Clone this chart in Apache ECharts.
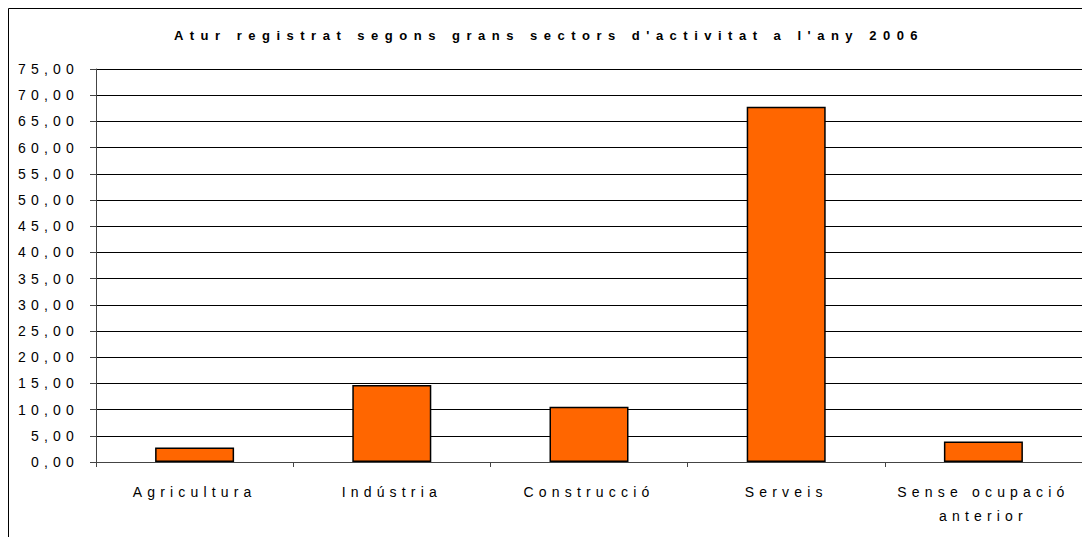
<!DOCTYPE html>
<html>
<head>
<meta charset="utf-8">
<script src="https://cdn.jsdelivr.net/npm/echarts@6/dist/echarts.min.js"></script>
<style>
  html, body { margin: 0; padding: 0; background: #fff; }
  #chart { width: 1082px; height: 537px; }
  /* the source chart has widely spaced glyphs */
  #chart text { letter-spacing: 0.37em; }
  #chart text[style*="bold"] { letter-spacing: 0.5em; }
</style>
</head>
<body>
<div id="chart"></div>
<script>
  // data
  var titleText = "Atur registrat segons grans sectors d'activitat a l'any 2006"
  var sectors = ['Agricultura', 'Indústria', 'Construcció', 'Serveis', 'Sense ocupació\nanterior']
  var atur = [2.75, 14.7, 10.55, 67.8, 3.9]
  var yMin = 0
  var yMax = 75
  var yStep = 5

  var chart = echarts.init(document.getElementById('chart'), null, { renderer: 'svg' })

  chart.setOption({
    animation: false,
    backgroundColor: '#fff',
    textStyle: {
      fontFamily: 'Liberation Sans, Arial, sans-serif'
    },
    graphic: [
      {
        // outer frame (left and top edges visible)
        type: 'rect',
        shape: { x: 8.5, y: 8.5, width: 1200, height: 700 },
        style: { fill: 'none', stroke: '#000', lineWidth: 1 },
        silent: true
      },
      {
        // chart title
        type: 'text',
        x: 549,
        y: 35,
        style: {
          text: titleText,
          fill: '#000',
          font: 'bold 13px Liberation Sans, Arial, sans-serif',
          align: 'center',
          verticalAlign: 'middle'
        },
        silent: true
      }
    ],
    grid: {
      left: 96,
      right: 0,
      top: 69,
      bottom: 75,
      containLabel: false
    },
    xAxis: {
      type: 'category',
      data: sectors,
      axisLine: {
        lineStyle: { color: '#444', width: 1 }
      },
      axisTick: {
        show: true,
        length: 5,
        lineStyle: { color: '#444' }
      },
      axisLabel: {
        color: '#000',
        fontSize: 14,
        margin: 18,
        lineHeight: 24
      }
    },
    yAxis: {
      type: 'value',
      min: yMin,
      max: yMax,
      interval: yStep,
      axisLine: {
        show: true,
        lineStyle: { color: '#444', width: 1 }
      },
      axisTick: {
        show: true,
        length: 6,
        lineStyle: { color: '#444' }
      },
      axisLabel: {
        color: '#000',
        fontSize: 14,
        margin: 17,
        formatter: function (v) {
          return v.toFixed(2).replace('.', ',')
        }
      },
      splitLine: {
        lineStyle: { color: '#000', width: 1 }
      }
    },
    series: [
      {
        name: 'Atur',
        type: 'bar',
        data: atur,
        barWidth: 79,
        itemStyle: {
          color: '#ff6600',
          borderColor: '#000',
          borderWidth: 1.5
        }
      }
    ]
  })
</script>
</body>
</html>
